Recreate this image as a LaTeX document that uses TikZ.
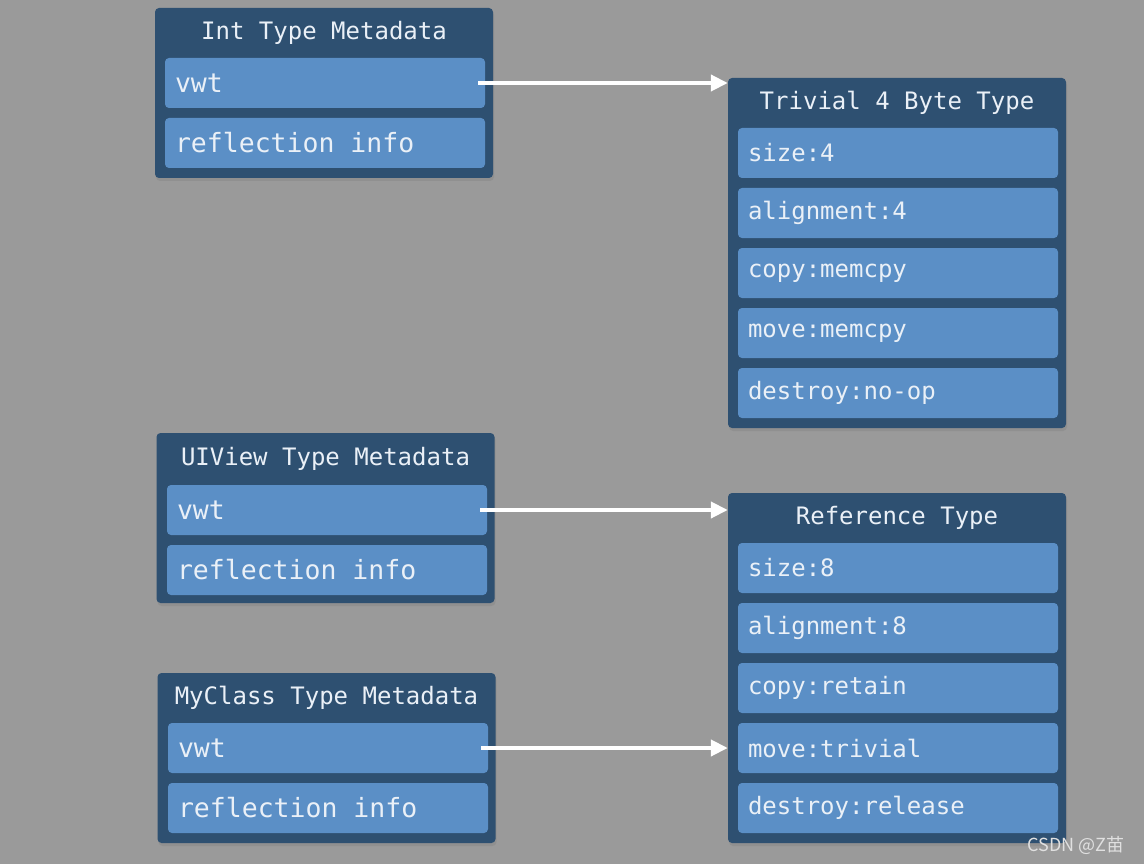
\documentclass[tikz,border=0pt]{standalone}
\usepackage{fontspec}
\usepackage{xcolor}
\usetikzlibrary{arrows.meta,shadows}
\setmonofont{DejaVu Sans Mono}
\newfontfamily\cjk{Noto Sans CJK SC}

\definecolor{bggray}{HTML}{9A9A9A}
\definecolor{boxdark}{HTML}{2E5071}
\definecolor{rowblue}{HTML}{5B8FC6}
\definecolor{textwhite}{HTML}{EAF0F7}

\begin{document}
\begin{tikzpicture}[x=1pt, y=-1pt,
    outerbox/.style={fill=boxdark, rounded corners=4pt, minimum width=338pt,
        drop shadow={opacity=0.35, shadow xshift=1pt, shadow yshift=-3pt}},
    titletext/.style={text=textwhite, font=\ttfamily\fontsize{24}{28}\selectfont},
    rowbox/.style={fill=rowblue, rounded corners=4pt, minimum height=50pt,
        inner xsep=10pt, text width=300pt, align=flush left, text=textwhite,
        font=\ttfamily\fontsize{24}{28}\selectfont},
    leftrow/.style={rowbox, font=\ttfamily\fontsize{26.5}{30}\selectfont},
    arrowline/.style={line width=4pt, white, -{Triangle[length=17pt,width=16pt]}}]

    % Background
    \fill[bggray] (0,0) rectangle (1144,864);
    \useasboundingbox (0,0) rectangle (1144,864);

    % Int Type Metadata
    \node[outerbox, minimum height=170pt] (intbox) at (324,93) {};
    \node[titletext] (inttitle) at (324,33) {Int Type Metadata};
    \node[leftrow] (intvwt) at (325,83) {vwt};
    \node[leftrow] (intrefl) at (325,143) {reflection info};

    % Trivial 4 Byte Type
    \node[outerbox, minimum height=350pt] (trivbox) at (897,253) {};
    \node[titletext] (trivtitle) at (897,103) {Trivial 4 Byte Type};
    \foreach \txt [count=\i] in {size:4, alignment:4, copy:memcpy, move:memcpy, destroy:no-op}
        \node[rowbox] (triv\i) at (898,93+60*\i) {\txt};

    % UIView Type Metadata
    \node[outerbox, minimum height=170pt] (uiviewbox) at (325.5,518) {};
    \node[titletext] (uiviewtitle) at (325.5,459) {UIView Type Metadata};
    \node[leftrow] (uiviewvwt) at (327,510) {vwt};
    \node[leftrow] (uiviewrefl) at (327,570) {reflection info};

    % Reference Type
    \node[outerbox, minimum height=350pt] (refbox) at (897,668) {};
    \node[titletext] (reftitle) at (897,518) {Reference Type};
    \foreach \txt [count=\i] in {size:8, alignment:8, copy:retain, move:trivial, destroy:release}
        \node[rowbox] (ref\i) at (898,508+60*\i) {\txt};

    % MyClass Type Metadata
    \node[outerbox, minimum height=170pt] (myclassbox) at (326.5,758) {};
    \node[titletext] (myclasstitle) at (326.5,698) {MyClass Type Metadata};
    \node[leftrow] (myclassvwt) at (328,748) {vwt};
    \node[leftrow] (myclassrefl) at (328,808) {reflection info};

    % vwt pointers
    \draw[arrowline] ([xshift=-7pt]intvwt.east) -- (intvwt.east -| trivbox.west);
    \draw[arrowline] ([xshift=-7pt]uiviewvwt.east) -- (uiviewvwt.east -| refbox.west);
    \draw[arrowline] ([xshift=-7pt]myclassvwt.east) -- (myclassvwt.east -| refbox.west);

    % Watermark
    \node[anchor=east, text=white!88!black, font=\cjk\fontsize{18}{20}\selectfont] (mark) at (1128,845) {CSDN @Z苗};
\end{tikzpicture}
\end{document}
